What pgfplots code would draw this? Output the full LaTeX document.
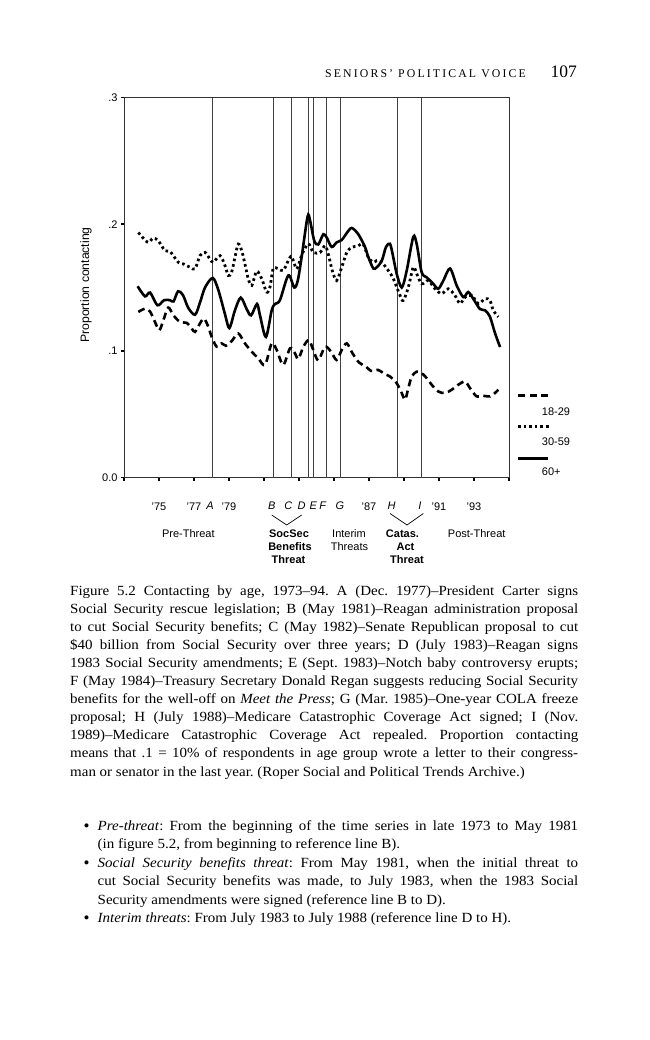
\documentclass[border=0pt]{standalone}
\usepackage{fontspec}
\setmainfont{Liberation Serif}
\setsansfont{Liberation Sans}
\newfontfamily\capfamily{Liberation Serif}[FakeStretch=1.07, Ligatures=TeX]
\newfontfamily\hdrfamily{Liberation Serif}[LetterSpace=18, Ligatures=TeX]
\usepackage{pgfplots}
\pgfplotsset{compat=1.18}
\frenchspacing
\newcommand\capfont{\capfamily\fontsize{14bp}{18bp}\selectfont}
\newcommand\chfont{\sffamily\fontsize{11bp}{13bp}\selectfont}
% justified single line
\newcommand\jline[3]{\node[anchor=base west, inner sep=0pt, font=\capfont] at (#1bp,-#2bp) {\hbox to \dimexpr578bp-#1bp\relax{#3}};}
\newcommand\lline[3]{\node[anchor=base west, inner sep=0pt, font=\capfont] at (#1bp,-#2bp) {#3};}
\begin{document}
\begin{tikzpicture}
\useasboundingbox[fill=white] (0,0) rectangle (650bp,-1040bp);
% running head
\node[anchor=base east, inner sep=0pt, font=\hdrfamily\fontsize{11.8bp}{13bp}\selectfont] at (526bp,-77.5bp) {SENIORS\textquoteright\ POLITICAL VOICE};
\node[anchor=base east, inner sep=0pt, font=\fontsize{17.5bp}{20bp}\selectfont] at (577bp,-77.5bp) {107};
\begin{axis}[
  at={(124bp,-477.5bp)}, anchor=south west, scale only axis,
  width=385bp, height=380bp,
  xmin=1973, xmax=1995, ymin=0, ymax=0.3,
  axis line style={line width=0.8bp, black!80},
  xtick={1973,1975,...,1995},
  xticklabels={,'75,'77,'79,,,,'87,,'91,'93,},
  ytick={0,0.1,0.2,0.3}, yticklabels={0.0,.1,.2,.3},
  tick pos=left, tick align=outside, major tick length=3bp,
  tick style={line width=1.6bp, black},
  ticklabel style={font=\chfont},
  xticklabel style={anchor=base, yshift=-29.5bp},
  clip=false,
]
% reference lines A-I
\addplot[black!75, line width=0.7bp] coordinates {(1978.06,0) (1978.06,0.3)};
\addplot[black!75, line width=0.7bp] coordinates {(1981.54,0) (1981.54,0.3)};
\addplot[black!75, line width=0.7bp] coordinates {(1982.54,0) (1982.54,0.3)};
\addplot[black!75, line width=0.7bp] coordinates {(1983.54,0) (1983.54,0.3)};
\addplot[black!75, line width=0.7bp] coordinates {(1983.84,0) (1983.84,0.3)};
\addplot[black!75, line width=0.7bp] coordinates {(1984.54,0) (1984.54,0.3)};
\addplot[black!75, line width=0.7bp] coordinates {(1985.36,0) (1985.36,0.3)};
\addplot[black!75, line width=0.7bp] coordinates {(1988.63,0) (1988.63,0.3)};
\addplot[black!75, line width=0.7bp] coordinates {(1990.00,0) (1990.00,0.3)};
% 18-29 dashed
\addplot[black, line width=2.6bp, dash pattern=on 7bp off 4.5bp, smooth, tension=0.5] coordinates {
(1973.82,.1307) (1974.20,.1333) (1974.49,.131) (1974.77,.1228) (1975.02,.1163) (1975.25,.1242) (1975.53,.1341) (1975.82,.1281) (1976.20,.1228) (1976.58,.1221) (1976.87,.1176) (1977.06,.115) (1977.34,.1216) (1977.57,.1255) (1977.82,.1189) (1978.01,.1111) (1978.30,.1032) (1978.58,.1059) (1978.83,.104) (1979.17,.108) (1979.53,.1137) (1979.91,.1059) (1980.30,.0993) (1980.67,.0941) (1981.06,.0889) (1981.44,.1059) (1981.73,.1006) (1982.10,.0889) (1982.49,.102) (1982.77,.098) (1982.96,.0935) (1983.25,.1032) (1983.56,.1085) (1983.82,.1006) (1984.10,.0925) (1984.49,.1032) (1984.83,.0993) (1985.15,.0928) (1985.44,.1006) (1985.73,.1059) (1986.06,.098) (1986.43,.0908) (1986.83,.0875) (1987.11,.0842) (1987.53,.0849) (1987.86,.082) (1988.20,.0797) (1988.58,.0745) (1988.87,.0667) (1989.06,.0614) (1989.25,.0706) (1989.44,.0797) (1989.73,.0836) (1990.01,.0824) (1990.30,.0784) (1990.58,.0732) (1990.96,.0679) (1991.34,.0667) (1991.73,.0693) (1992.10,.0732) (1992.49,.0758) (1992.77,.0706) (1993.15,.064) (1993.53,.0645) (1993.91,.064) (1994.20,.0667) (1994.39,.0693)};
% 30-59 dotted
\addplot[black, line width=2.8bp, dash pattern=on 2.6bp off 3bp, smooth, tension=0.5] coordinates {
(1973.82,.1934) (1974.10,.189) (1974.39,.1856) (1974.67,.189) (1974.96,.1869) (1975.34,.179) (1975.63,.1785) (1976.10,.1699) (1976.39,.1686) (1976.77,.166) (1977.06,.1647) (1977.34,.1751) (1977.63,.1777) (1977.91,.1725) (1978.10,.1699) (1978.49,.1751) (1978.77,.1673) (1978.96,.1595) (1979.15,.162) (1979.34,.1739) (1979.53,.1843) (1979.73,.179) (1979.91,.1686) (1980.10,.1569) (1980.30,.1516) (1980.58,.1628) (1980.87,.1569) (1981.15,.1464) (1981.34,.1503) (1981.53,.165) (1981.82,.1647) (1982.10,.1634) (1982.39,.1712) (1982.58,.1745) (1982.87,.1647) (1983.15,.1755) (1983.53,.1845) (1983.82,.1777) (1984.20,.1777) (1984.49,.183) (1984.67,.1765) (1984.90,.1634) (1985.15,.1555) (1985.44,.166) (1985.73,.1777) (1986.01,.1817) (1986.39,.183) (1986.67,.1843) (1986.96,.1738) (1987.25,.1699) (1987.44,.1712) (1987.73,.1699) (1988.10,.1634) (1988.39,.157) (1988.77,.1438) (1988.96,.1398) (1989.25,.1503) (1989.53,.166) (1989.73,.1608) (1990.01,.1529) (1990.39,.1555) (1990.77,.149) (1991.15,.1451) (1991.53,.149) (1991.91,.1438) (1992.20,.1373) (1992.49,.1424) (1992.87,.1438) (1993.25,.1373) (1993.63,.1412) (1993.91,.1398) (1994.10,.132) (1994.39,.1268)};
% 60+ solid
\addplot[black, line width=2.6bp, smooth, tension=0.5] coordinates {
(1973.78,.151) (1974.20,.143) (1974.49,.146) (1974.91,.136) (1975.29,.140) (1975.63,.140) (1975.83,.139) (1976.09,.147) (1976.37,.144) (1976.67,.134) (1977.06,.1285) (1977.34,.138) (1977.63,.150) (1978.07,.1575) (1978.39,.148) (1978.77,.129) (1979.02,.118) (1979.34,.132) (1979.67,.142) (1980.01,.133) (1980.26,.128) (1980.60,.137) (1980.77,.128) (1981.11,.111) (1981.44,.132) (1981.63,.137) (1981.91,.140) (1982.39,.1595) (1982.73,.150) (1982.93,.1555) (1983.15,.174) (1983.49,.206) (1983.63,.203) (1983.87,.187) (1984.10,.184) (1984.39,.192) (1984.58,.1895) (1984.87,.182) (1985.15,.1856) (1985.44,.1875) (1985.73,.193) (1986.01,.197) (1986.39,.192) (1986.77,.182) (1986.96,.174) (1987.25,.165) (1987.44,.166) (1987.73,.171) (1987.97,.182) (1988.20,.1845) (1988.37,.175) (1988.58,.161) (1988.87,.150) (1989.15,.163) (1989.53,.190) (1989.73,.184) (1990.01,.162) (1990.30,.158) (1990.67,.153) (1990.96,.149) (1991.25,.1555) (1991.63,.165) (1992.01,.1516) (1992.39,.1424) (1992.67,.1464) (1992.96,.141) (1993.34,.133) (1993.63,.132) (1993.91,.127) (1994.20,.114) (1994.49,.103)};
\end{axis}
% y label
\node[rotate=90, font=\sffamily\fontsize{12.2bp}{14bp}\selectfont] at (86bp,-285bp) {Proportion contacting};
% reference letters
\begin{scope}[every node/.style={anchor=base, inner sep=0pt, font=\chfont\itshape}]
\node at (210bp,-509bp) {A};
\node at (271.7bp,-509bp) {B};
\node at (288.3bp,-509bp) {C};
\node at (301.7bp,-509bp) {D};
\node at (313.3bp,-509bp) {E};
\node at (322.7bp,-509bp) {F};
\node at (340bp,-509bp) {G};
\node at (391.7bp,-509bp) {H};
\node at (420bp,-509bp) {I};
\end{scope}
\draw[line width=0.7bp] (271.7bp,-515bp) -- (286.7bp,-525bp) -- (301.7bp,-515bp);
\draw[line width=0.7bp] (390bp,-513.5bp) -- (407bp,-525bp) -- (423.3bp,-513.5bp);
% period labels
\begin{scope}[every node/.style={anchor=base, inner sep=0pt, font=\chfont}]
\node at (188.3bp,-537bp) {Pre-Threat};
\node[font=\chfont\bfseries] at (289bp,-537bp) {SocSec};
\node[font=\chfont\bfseries] at (290bp,-550bp) {Benefits};
\node[font=\chfont\bfseries] at (288.5bp,-563bp) {Threat};
\node at (349bp,-537bp) {Interim};
\node at (349.5bp,-550bp) {Threats};
\node[font=\chfont\bfseries] at (402.5bp,-537bp) {Catas.};
\node[font=\chfont\bfseries] at (405.5bp,-550bp) {Act};
\node[font=\chfont\bfseries] at (407bp,-563bp) {Threat};
\node at (476.7bp,-537bp) {Post-Threat};
\end{scope}
% legend
\draw[line width=2.6bp, dash pattern=on 7bp off 4.5bp] (518bp,-395.7bp) -- (549bp,-395.7bp);
\draw[line width=2.8bp, dash pattern=on 2.6bp off 3bp] (518bp,-426.7bp) -- (549bp,-426.7bp);
\draw[line width=2.6bp] (518bp,-458.3bp) -- (548bp,-458.3bp);
\begin{scope}[every node/.style={anchor=base west, inner sep=0pt, font=\chfont}]
\node at (541.7bp,-415.7bp) {18-29};
\node at (541.7bp,-445.7bp) {30-59};
\node at (541.7bp,-475.7bp) {60+};
\end{scope}
% caption
\jline{70}{595}{Figure 5.2 Contacting by age, 1973\textendash94. A (Dec. 1977)\textendash President Carter signs}
\jline{70}{613.1}{Social Security rescue legislation; B (May 1981)\textendash Reagan administration proposal}
\jline{70}{631.2}{to cut Social Security benefits; C (May 1982)\textendash Senate Republican proposal to cut}
\jline{70}{649.3}{\$40 billion from Social Security over three years; D (July 1983)\textendash Reagan signs}
\jline{70}{667.4}{1983 Social Security amendments; E (Sept. 1983)\textendash Notch baby controversy erupts;}
\jline{70}{685.5}{F (May 1984)\textendash Treasury Secretary Donald Regan suggests reducing Social Security}
\jline{70}{703.6}{benefits for the well-off on \textit{Meet the Press}; G (Mar. 1985)\textendash One-year COLA freeze}
\jline{70}{721.7}{proposal; H (July 1988)\textendash Medicare Catastrophic Coverage Act signed; I (Nov.}
\jline{70}{739.8}{1989)\textendash Medicare Catastrophic Coverage Act repealed. Proportion contacting}
\jline{70}{757.9}{means that .1 = 10\% of respondents in age group wrote a letter to their congress-}
\lline{70}{776}{man or senator in the last year. (Roper Social and Political Trends Archive.)}
% bullets
\begin{scope}[every node/.style={anchor=base, inner sep=0pt, font=\fontsize{17bp}{18bp}\selectfont}]
\node at (86.5bp,-831bp) {\textbullet};
\node at (86.5bp,-868bp) {\textbullet};
\node at (86.5bp,-923.5bp) {\textbullet};
\end{scope}
\jline{97.5}{830}{\textit{Pre-threat}: From the beginning of the time series in late 1973 to May 1981}
\lline{97.5}{848.5}{(in figure 5.2, from beginning to reference line B).}
\jline{97.5}{867}{\textit{Social Security benefits threat}: From May 1981, when the initial threat to}
\jline{97.5}{885.5}{cut Social Security benefits was made, to July 1983, when the 1983 Social}
\lline{97.5}{904}{Security amendments were signed (reference line B to D).}
\lline{97.5}{922.5}{\textit{Interim threats}: From July 1983 to July 1988 (reference line D to H).}
\end{tikzpicture}
\end{document}
